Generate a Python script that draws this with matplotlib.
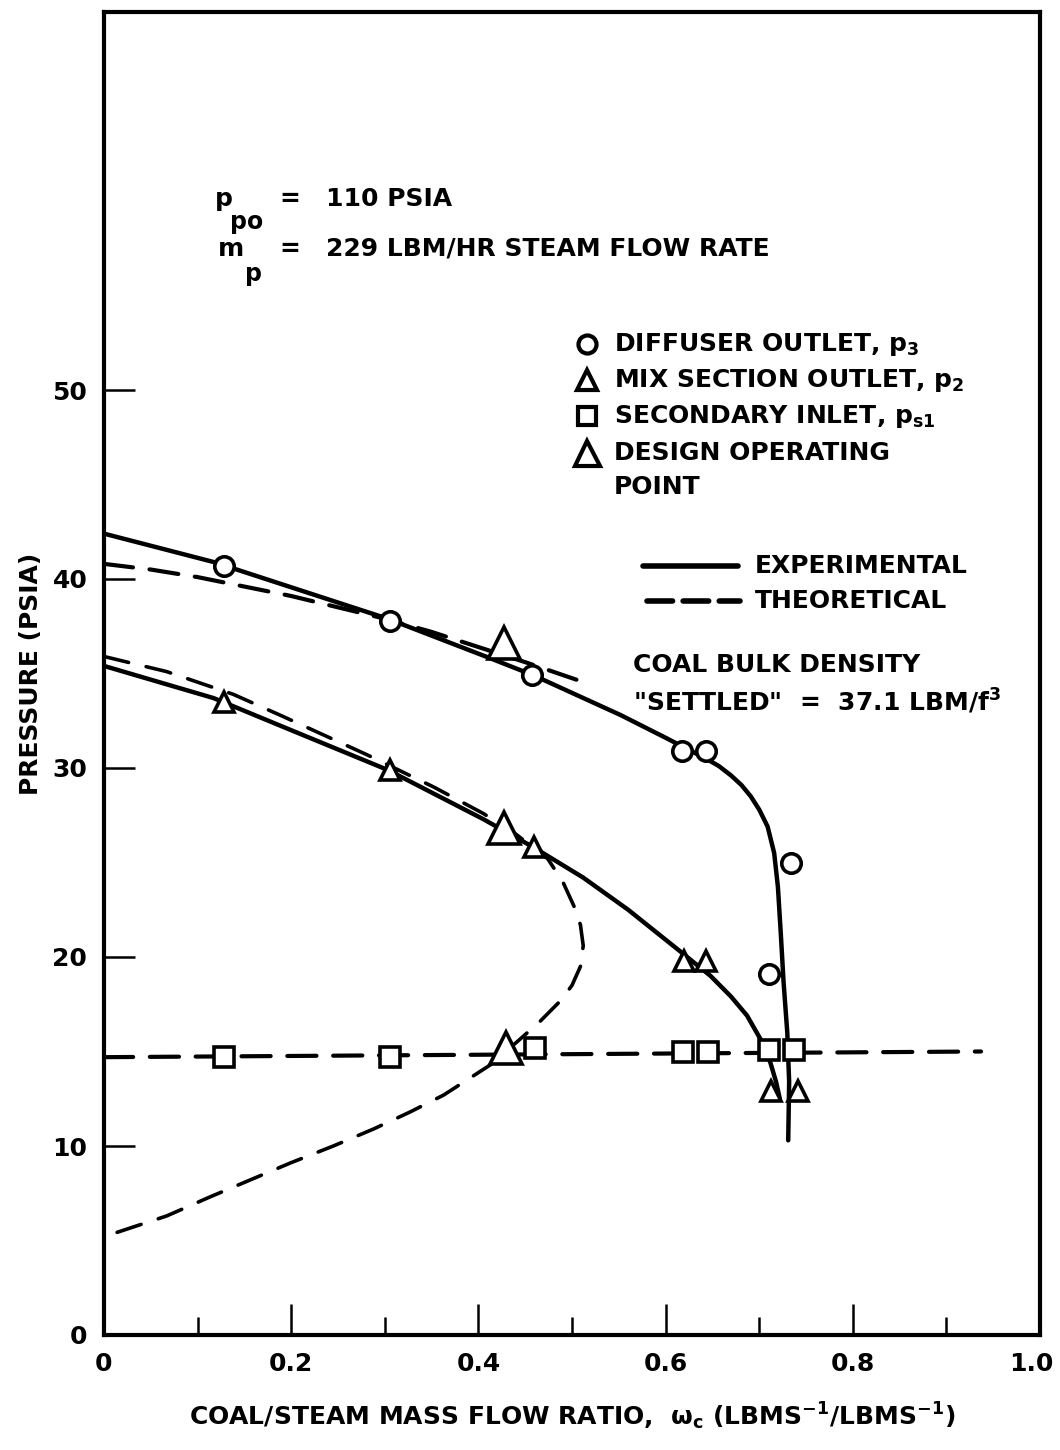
import matplotlib.pyplot as plt
import matplotlib.transforms as mtransforms
from matplotlib.lines import Line2D
from matplotlib.ticker import FixedLocator, MultipleLocator

plt.rcParams['font.family'] = ['DejaVu Sans']
plt.rcParams['font.weight'] = 'bold'
plt.rcParams['mathtext.fontset'] = 'custom'
plt.rcParams['mathtext.rm'] = 'DejaVu Sans:bold'
plt.rcParams['mathtext.it'] = 'DejaVu Sans:bold'
plt.rcParams['mathtext.bf'] = 'DejaVu Sans:bold'

# measured points
p3_x = [0.128, 0.306, 0.457, 0.617, 0.643, 0.734, 0.710]
p3_y = [40.7, 37.8, 34.9, 30.9, 30.9, 25.0, 19.1]
p2_x = [0.128, 0.306, 0.459, 0.620, 0.643, 0.713, 0.741]
p2_y = [33.5, 29.9, 25.8, 19.8, 19.8, 12.9, 12.9]
ps1_x = [0.128, 0.306, 0.461, 0.619, 0.645, 0.710, 0.737]
ps1_y = [14.7, 14.7, 15.2, 15.0, 15.0, 15.1, 15.1]
design_x = [0.427, 0.427, 0.429]
design_y = [36.6, 26.8, 15.2]

# experimental curves
exp_p3_x = [0.0, 0.117, 0.21, 0.303, 0.413, 0.459, 0.552, 0.600, 0.643, 0.657,
            0.670, 0.681, 0.691, 0.700, 0.709, 0.716, 0.720, 0.723, 0.726, 0.730,
            0.732, 0.731]
exp_p3_y = [42.4, 40.9, 39.4, 37.9, 35.8, 34.9, 32.8, 31.6, 30.5, 30.1,
            29.6, 29.1, 28.5, 27.8, 26.9, 25.5, 23.7, 21.3, 18.7, 16.0,
            13.4, 10.3]
exp_p2_x = [0.0, 0.117, 0.2, 0.303, 0.405, 0.459, 0.512, 0.560, 0.613, 0.648,
            0.670, 0.687, 0.702, 0.712, 0.718, 0.722]
exp_p2_y = [35.4, 33.7, 32.0, 29.9, 27.3, 25.8, 24.2, 22.5, 20.4, 19.0,
            17.9, 16.9, 15.6, 14.4, 13.4, 12.5]

# theoretical curves
th_p3_x = [0.0, 0.05, 0.1, 0.15, 0.2, 0.25, 0.3, 0.35, 0.4, 0.45, 0.509]
th_p3_y = [40.8, 40.5, 40.1, 39.6, 39.1, 38.5, 37.9, 37.2, 36.4, 35.6, 34.6]
th_p2_x = [0.0, 0.067, 0.138, 0.188, 0.281, 0.352, 0.405, 0.44, 0.474, 0.490,
           0.502, 0.509, 0.512, 0.509, 0.500, 0.488, 0.466, 0.441, 0.413, 0.388,
           0.363, 0.327, 0.288, 0.245, 0.199, 0.156, 0.113, 0.067, 0.006]
th_p2_y = [35.9, 35.1, 33.9, 32.8, 30.7, 29.0, 27.6, 26.5, 25.2, 24.0,
           22.7, 21.7, 20.6, 19.5, 18.5, 17.7, 16.6, 15.5, 14.3, 13.5,
           12.7, 11.8, 10.9, 10.0, 9.1, 8.2, 7.3, 6.3, 5.3]
th_ps1_x = [0.0, 0.937]
th_ps1_y = [14.7, 15.0]

x_ticks = [0.0, 0.2, 0.4, 0.6, 0.8, 1.0]
x_tick_labels = ['0', '0.2', '0.4', '0.6', '0.8', '1.0']
y_ticks = [0, 10, 20, 30, 40, 50]

W, H = 1060, 1450
fig = plt.figure(figsize=(W / 100, H / 100), dpi=100)
ax = fig.add_axes([104 / W, 1 - 1335 / H, (1040 - 104) / W, (1335 - 12) / H])


def fx(xp):
    return xp / W


def fy(yp):
    return 1 - yp / H


# curves
ax.plot(exp_p3_x, exp_p3_y, color='black', lw=3.2, solid_capstyle='round',
        solid_joinstyle='round', zorder=2)
ax.plot(exp_p2_x, exp_p2_y, color='black', lw=3.2, solid_capstyle='round',
        solid_joinstyle='round', zorder=2)
ax.plot(th_p3_x, th_p3_y, color='black', lw=3, dashes=(7, 4), dash_capstyle='round', zorder=2)
ax.plot(th_p2_x, th_p2_y, color='black', lw=2.6, dashes=(7, 5), dash_capstyle='round', zorder=2)
ax.plot(th_ps1_x, th_ps1_y, color='black', lw=3, dashes=(7, 4), dash_capstyle='round', zorder=2)

# markers
mk = dict(ls='none', mfc='white', mec='black', mew=2.6, zorder=4)
ax.plot(p3_x, p3_y, marker='o', ms=14, **mk)
ax.plot(p2_x, p2_y, marker='^', ms=15, **mk)
ax.plot(ps1_x, ps1_y, marker='s', ms=14, **mk)
ax.plot(design_x, design_y, marker='^', ms=23, **mk)

ax.set_xlim(0, 1.0)
ax.set_ylim(0, 70)
ax.xaxis.set_major_locator(FixedLocator(x_ticks))
ax.set_xticklabels(x_tick_labels)
ax.xaxis.set_minor_locator(MultipleLocator(0.1))
ax.yaxis.set_major_locator(FixedLocator(y_ticks))
ax.tick_params(axis='x', which='major', direction='in', length=22, width=1.8,
               labelsize=18, pad=12, top=False)
ax.tick_params(axis='x', which='minor', direction='in', length=13, width=1.8, top=False)
ax.tick_params(axis='y', which='major', direction='in', length=22, width=1.8,
               labelsize=18, pad=12, right=False)
for lab in ax.get_xticklabels() + ax.get_yticklabels():
    lab.set_fontweight('bold')
# keep the last x label inside the canvas
last = ax.get_xticklabels()[-1]
last.set_transform(last.get_transform() +
                   mtransforms.ScaledTranslation(-9 / 100, 0, fig.dpi_scale_trans))
for sp in ax.spines.values():
    sp.set_linewidth(3)

ax.set_xlabel(r'COAL/STEAM MASS FLOW RATIO,  $\omega_c$ (LBMS$^{-1}$/LBMS$^{-1}$)',
              fontsize=18, fontweight='bold', labelpad=18)
ax.set_ylabel('PRESSURE (PSIA)', fontsize=18, fontweight='bold', labelpad=7)

# conditions block
tk = dict(fontsize=18, fontweight='bold', va='baseline')
fig.text(fx(215), fy(206), 'p', **tk)
fig.text(fx(230), fy(229), 'po', fontsize=17, fontweight='bold', va='baseline')
fig.text(fx(279), fy(206), '=', **tk)
fig.text(fx(326), fy(206), '110 PSIA', **tk)
fig.text(fx(218), fy(256), 'm', **tk)
fig.text(fx(245), fy(281), 'p', fontsize=17, fontweight='bold', va='baseline')
fig.text(fx(279), fy(256), '=', **tk)
fig.text(fx(326), fy(256), '229 LBM/HR STEAM FLOW RATE', **tk)

# symbol key
key_rows = [
    ('o', 13, 344, r'DIFFUSER OUTLET, $p_3$'),
    ('^', 14, 380, r'MIX SECTION OUTLET, $p_2$'),
    ('s', 13, 416, r'SECONDARY INLET, $p_{s1}$'),
    ('^', 18, 453, 'DESIGN OPERATING'),
]
for m, s, yp, txt in key_rows:
    fig.add_artist(Line2D([fx(587)], [fy(yp)], transform=fig.transFigure, marker=m,
                          ms=s, mfc='white', mec='black', mew=3, ls='none'))
    fig.text(fx(614), fy(yp), txt, fontsize=18, fontweight='bold', va='center')
fig.text(fx(614), fy(487), 'POINT', fontsize=18, fontweight='bold', va='center')

# line key
fig.add_artist(Line2D([fx(643), fx(738)], [fy(566), fy(566)], transform=fig.transFigure,
                      color='black', lw=4, solid_capstyle='round'))
fig.add_artist(Line2D([fx(647), fx(740)], [fy(601), fy(601)], transform=fig.transFigure,
                      color='black', lw=4, dashes=(4.6, 1.9), dash_capstyle='round'))
fig.text(fx(755), fy(566), 'EXPERIMENTAL', fontsize=18, fontweight='bold', va='center')
fig.text(fx(755), fy(601), 'THEORETICAL', fontsize=18, fontweight='bold', va='center')

fig.text(fx(633), fy(665), 'COAL BULK DENSITY', fontsize=18, fontweight='bold', va='center')
fig.text(fx(633), fy(702), r'"SETTLED"  =  37.1 LBM/f$^3$', fontsize=18,
         fontweight='bold', va='center')

fig.savefig('out.png', dpi=100)
